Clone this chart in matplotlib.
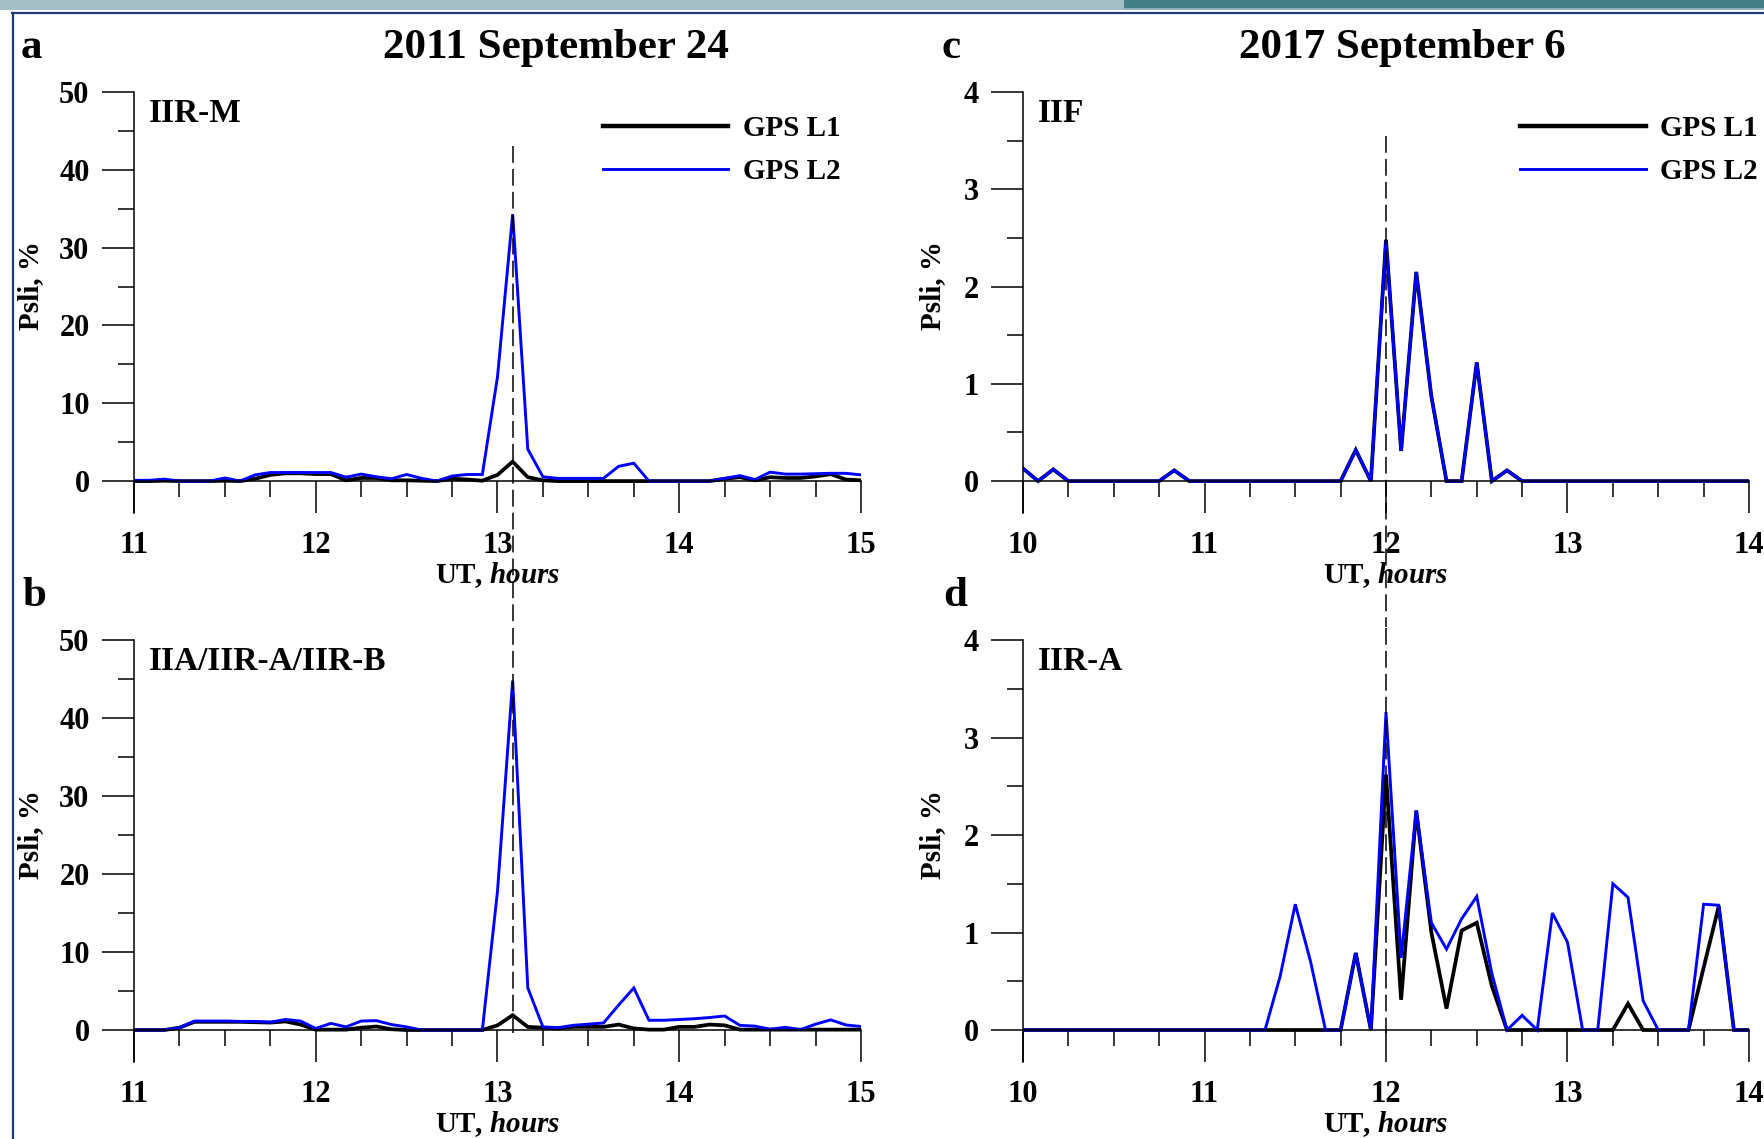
import numpy as np
import matplotlib.pyplot as plt
from matplotlib.patches import Rectangle
from matplotlib.lines import Line2D
from matplotlib.ticker import MultipleLocator

plt.rcParams['font.family'] = ['Liberation Serif', 'DejaVu Serif']
plt.rcParams['font.weight'] = 'bold'
plt.rcParams['axes.labelweight'] = 'bold'
plt.rcParams['mathtext.fontset'] = 'custom'
plt.rcParams['mathtext.bfit'] = 'Liberation Serif:italic:bold'
plt.rcParams['mathtext.rm'] = 'Liberation Serif:bold'

# 5-minute samples
t_2011 = np.linspace(11, 15, 49)
t_2017 = np.linspace(10, 14, 49)

# 2011 September 24, IIR-M
a_l1 = [0, 0, 0.05, 0, 0, 0, 0.05, 0, 0.3, 0.8, 1.0, 1.0, 0.9, 0.9, 0.1, 0.4, 0.4,
        0.1, 0.1, 0.05, 0, 0.3, 0.2, 0.05, 0.8, 2.5, 0.5, 0.1, 0, 0, 0, 0, 0, 0, 0,
        0, 0, 0, 0, 0.3, 0.5, 0.1, 0.5, 0.4, 0.4, 0.6, 0.9, 0.2, 0.1]
a_l2 = [0.1, 0.1, 0.25, 0, 0, 0, 0.4, 0, 0.8, 1.1, 1.1, 1.1, 1.1, 1.1, 0.5, 0.9,
        0.55, 0.3, 0.85, 0.35, 0, 0.65, 0.85, 0.85, 13.4, 34.3, 4.1, 0.55, 0.35,
        0.35, 0.35, 0.35, 1.9, 2.3, 0, 0, 0, 0, 0, 0.35, 0.7, 0.2, 1.15, 0.9, 0.9,
        0.95, 1.0, 1.0, 0.8]

# 2011 September 24, IIA/IIR-A/IIR-B
b_l1 = [0, 0, 0, 0.3, 1.05, 1.05, 1.05, 1.05, 1.0, 0.95, 1.1, 0.7, 0.05, 0.05,
        0.05, 0.3, 0.45, 0.1, 0, 0, 0, 0, 0, 0, 0.6, 1.9, 0.4, 0.3, 0.2, 0.4, 0.4,
        0.4, 0.7, 0.2, 0.05, 0.05, 0.4, 0.4, 0.7, 0.6, 0.05, 0.05, 0.05, 0.05,
        0.05, 0.05, 0.05, 0.05, 0.05]
b_l2 = [0, 0, 0, 0.3, 1.15, 1.15, 1.15, 1.1, 1.1, 1.0, 1.35, 1.15, 0.2, 0.85, 0.4,
        1.15, 1.2, 0.7, 0.4, 0, 0, 0, 0, 0, 17.8, 44.8, 5.4, 0.4, 0.3, 0.6, 0.75,
        0.9, 3.2, 5.4, 1.25, 1.25, 1.35, 1.45, 1.6, 1.8, 0.6, 0.5, 0.1, 0.35, 0.05,
        0.75, 1.3, 0.65, 0.45]

# 2017 September 6, IIF (L1 and L2 coincide)
c_l2 = [0.13, 0, 0.12, 0, 0, 0, 0, 0, 0, 0, 0.11, 0, 0, 0, 0, 0, 0, 0, 0, 0, 0, 0,
        0.32, 0, 2.48, 0.31, 2.15, 0.87, 0, 0, 1.22, 0, 0.11, 0, 0, 0, 0, 0, 0, 0,
        0, 0, 0, 0, 0, 0, 0, 0, 0]
c_l1 = list(c_l2)

# 2017 September 6, IIR-A
d_l1 = [0, 0, 0, 0, 0, 0, 0, 0, 0, 0, 0, 0, 0, 0, 0, 0, 0, 0, 0, 0, 0, 0, 0.79, 0,
        2.62, 0.31, 2.25, 1.0, 0.22, 1.02, 1.1, 0.45, 0, 0, 0, 0, 0, 0, 0, 0, 0.27,
        0, 0, 0, 0, 0.64, 1.27, 0, 0]
d_l2 = [0, 0, 0, 0, 0, 0, 0, 0, 0, 0, 0, 0, 0, 0, 0, 0, 0, 0.55, 1.29, 0.71, 0, 0,
        0.79, 0, 3.26, 0.74, 2.25, 1.1, 0.83, 1.14, 1.37, 0.58, 0, 0.15, 0, 1.2,
        0.9, 0, 0, 1.5, 1.36, 0.3, 0, 0, 0, 1.29, 1.28, 0, 0]

event_2011 = 13.083
event_2017 = 12.0

W, H = 1765, 1139
fig = plt.figure(figsize=(W / 100, H / 100), dpi=100)

# slide frame decoration
fig.add_artist(Rectangle((0, 1 - 10 / H), 1124 / W, 10 / H, transform=fig.transFigure,
                         color='#a5c0c5', lw=0))
fig.add_artist(Rectangle((1124 / W, 1 - 10 / H), 1 - 1124 / W, 10 / H,
                         transform=fig.transFigure, color='#8fb0b5', lw=0))
fig.add_artist(Rectangle((1124 / W, 1 - 8 / H), 1 - 1124 / W, 8 / H,
                         transform=fig.transFigure, color='#447f86', lw=0))
fig.add_artist(Line2D([12 / W, 1], [1 - 12.5 / H, 1 - 12.5 / H], transform=fig.transFigure,
                      color='#203a78', lw=1.6))
fig.add_artist(Line2D([13 / W, 13 / W], [0, 1 - 12.5 / H], transform=fig.transFigure,
                      color='#203a78', lw=1.6))


def px_axes(left, right, top, bottom):
    return fig.add_axes([left / W, 1 - bottom / H, (right - left) / W, (bottom - top) / H])


def style(ax, xlim, ymax, ymajor, yminor, label_x):
    ax.set_xlim(*xlim)
    ax.set_ylim(-ymax * 0.082, ymax)
    ax.spines['top'].set_visible(False)
    ax.spines['right'].set_visible(False)
    ax.spines['bottom'].set_position(('data', 0))
    for s in ('left', 'bottom'):
        ax.spines[s].set_linewidth(1.1)
    ax.xaxis.set_major_locator(MultipleLocator(1))
    ax.xaxis.set_minor_locator(MultipleLocator(0.25))
    ax.yaxis.set_minor_locator(MultipleLocator(yminor))
    ax.set_yticks(np.arange(0, ymax + 1e-9, ymajor))
    ax.tick_params(which='major', length=23, width=1.1, labelsize=22, pad=13)
    ax.tick_params(which='minor', length=11.5, width=1.1)
    ax.tick_params(axis='y', which='major', pad=9)
    for lab in ax.get_xticklabels() + ax.get_yticklabels():
        lab.set_fontweight('bold')
    ax.set_xlabel(r'UT, $\mathbfit{hours}$', fontsize=21, fontweight='bold', labelpad=0)
    ax.set_ylabel('Psli, %', fontsize=21, fontweight='bold')
    ax.yaxis.set_label_coords(label_x, 0.54)


ax_a = px_axes(134, 861, 92, 513)
ax_b = px_axes(134, 861, 640, 1062)
ax_c = px_axes(1023, 1749, 92, 513)
ax_d = px_axes(1023, 1749, 640, 1062)

panels = [
    (ax_a, t_2011, a_l1, a_l2, 'IIR-M', (11, 15), 50, 10, 5, event_2011, (43.0, -18.5)),
    (ax_b, t_2011, b_l1, b_l2, 'IIA/IIR-A/IIR-B', (11, 15), 50, 10, 5, event_2011, (51.5, -0.4)),
    (ax_c, t_2017, c_l1, c_l2, 'IIF', (10, 14), 4, 1, 0.5, event_2017, (3.55, -1.5)),
    (ax_d, t_2017, d_l1, d_l2, 'IIR-A', (10, 14), 4, 1, 0.5, event_2017, (4.12, -0.03)),
]

for ax, t, l1, l2, name, xlim, ymax, ymaj, ymin, ev, ev_span in panels:
    ax.plot(t, l1, color='black', lw=2.7, label='GPS L1', solid_joinstyle='miter')
    ax.plot(t, l2, color='#0000ff', lw=2.1, label='GPS L2', solid_joinstyle='miter')
    ax.plot([ev, ev], list(ev_span), color='black', lw=1.1, dashes=(11, 4),
            clip_on=False)
    lx = -0.124 if xlim[0] == 11 else -0.106
    style(ax, xlim, ymax, ymaj, ymin, lx)
    ax.text(0.02, 0.95, name, transform=ax.transAxes, fontsize=24, fontweight='bold',
            ha='left', va='center')

for ax, x0 in ((ax_a, 0.645), (ax_c, 0.685)):
    leg = ax.legend(loc='upper left', bbox_to_anchor=(x0, 0.945), frameon=False,
                    handlelength=4.3, handletextpad=0.5, labelspacing=0.55, borderpad=0,
                    borderaxespad=0, prop={'weight': 'bold', 'size': 21})
    leg.get_lines()[0].set_linewidth(3.2)

fig.text(31 / W, 1 - 48 / H, 'a', fontsize=31, fontweight='bold', ha='center', va='center')
fig.text(34 / W, 1 - 596 / H, 'b', fontsize=31, fontweight='bold', ha='center', va='center')
fig.text(951 / W, 1 - 48 / H, 'c', fontsize=31, fontweight='bold', ha='center', va='center')
fig.text(955 / W, 1 - 596 / H, 'd', fontsize=31, fontweight='bold', ha='center', va='center')
fig.text(556 / W, 1 - 48 / H, '2011 September 24', fontsize=31, fontweight='bold',
         ha='center', va='center')
fig.text(1402 / W, 1 - 48 / H, '2017 September 6', fontsize=31, fontweight='bold',
         ha='center', va='center')

fig.savefig('out.png', dpi=100)
